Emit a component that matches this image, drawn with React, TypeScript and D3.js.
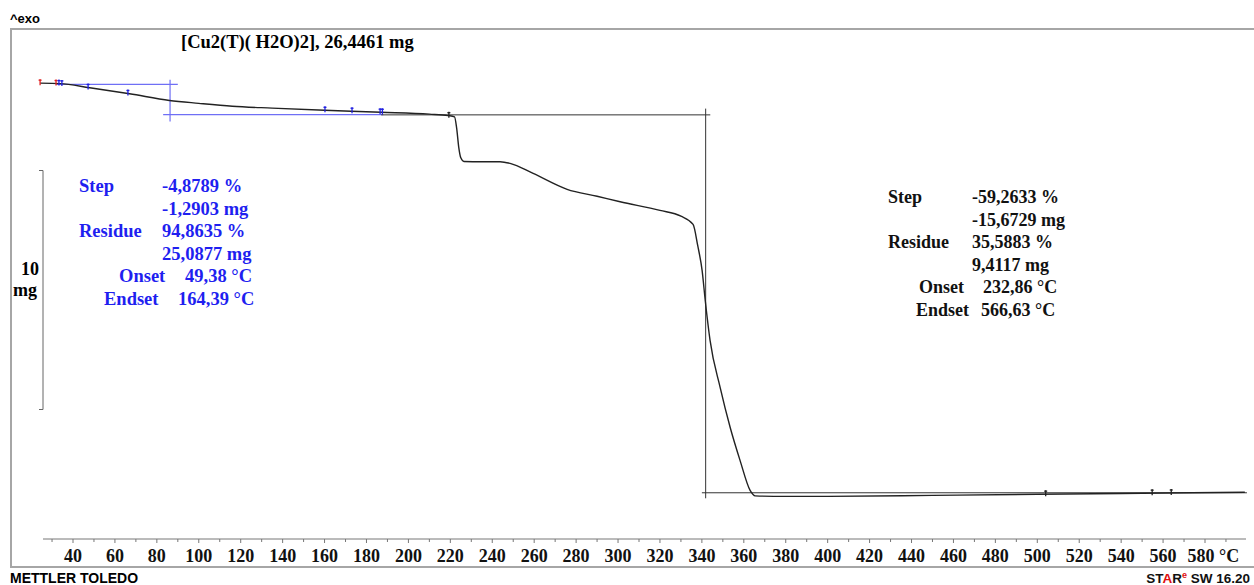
import React from "react";
import * as d3 from "d3";

// ---- data (temperature °C, mass mg) ----
const tempC = [24.3, 33.8, 48, 67, 86, 100, 116, 135, 160, 187, 210, 219, 222, 223, 224, 225, 226.5, 235, 243.7, 248.5, 259.5, 275.7, 290, 301, 320, 330, 335.8, 338, 340.1, 341.6, 343.9, 348.7, 353.5, 358.2, 363, 365.4, 380, 400, 450, 500, 550, 599];
const massMg = [26.46, 26.44, 26.27, 26.02, 25.74, 25.62, 25.5, 25.42, 25.33, 25.25, 25.17, 25.11, 25.06, 24.6, 23.8, 23.35, 23.2, 23.19, 23.19, 23.12, 22.7, 22.04, 21.75, 21.52, 21.16, 20.92, 20.58, 19.7, 18.66, 17.41, 15.75, 13.79, 12.12, 10.75, 9.5, 9.27, 9.25, 9.25, 9.29, 9.34, 9.38, 9.42];

const xTicksMajor = [40, 60, 80, 100, 120, 140, 160, 180, 200, 220, 240, 260, 280, 300, 320, 340, 360, 380, 400, 420, 440, 460, 480, 500, 520, 540, 560, 580];
const xTicksMinor = [30, 50, 70, 90, 110, 130, 150, 170, 190, 210, 230, 250, 270, 290, 310, 330, 350, 370, 390, 410, 430, 450, 470, 490, 510, 530, 550, 570, 590];

const titleText = "[Cu2(T)( H2O)2], 26,4461 mg";

const step1Labels = [
  ["Step", "-4,8789 %"],
  ["", "-1,2903 mg"],
  ["Residue", "94,8635 %"],
  ["", "25,0877 mg"],
];
const step1Onset = ["Onset", "49,38 °C"];
const step1Endset = ["Endset", "164,39 °C"];

const step2Labels = [
  ["Step", "-59,2633 %"],
  ["", "-15,6729 mg"],
  ["Residue", "35,5883 %"],
  ["", "9,4117 mg"],
];
const step2Onset = ["Onset", "232,86 °C"];
const step2Endset = ["Endset", "566,63 °C"];

// annotation geometry in data units
const step1Upper = { t0: 32, t1: 90, m: 26.41 };
const step1Lower = { t0: 83, t1: 188, m: 25.15 };
const step1Vertical = { t: 86.3, m0: 26.6, m1: 24.86 };
const step2Upper = { t0: 187, t1: 344, m: 25.14 };
const step2Vertical = { t: 341.8, m0: 25.4, m1: 9.17 };
const step2Lower = { t0: 340, t1: 600, m: 9.4 };
const markersRed = [24.3, 31.9];
const markersBlue = [33.3, 34.7, 47.2, 66.2, 160.2, 173.1, 186.5, 187.6];
const markersBlack = [219.3, 504, 554.8, 563.9];

const BLUE = "#1f1ff0";

export default function App() {
  const W = 1254, H = 585;
  const x = d3.scaleLinear().domain([40, 580]).range([73, 1205]);
  const y = d3.scaleLinear().domain([9.4117, 26.4461]).range([492.5, 83.5]);
  const pts: [number, number][] = tempC.map((t, i) => [t, massMg[i]]);
  const line = d3.line<[number, number]>().x(d => x(d[0])).y(d => y(d[1])).curve(d3.curveMonotoneX);
  const massAt = (t: number) => {
    for (let i = 0; i < tempC.length - 1; i++) {
      if (t >= tempC[i] && t <= tempC[i + 1]) {
        const f = (t - tempC[i]) / (tempC[i + 1] - tempC[i]);
        return massMg[i] + f * (massMg[i + 1] - massMg[i]);
      }
    }
    return massMg[massMg.length - 1];
  };
  const marker = (t: number, color: string, k: string) => {
    const cx = x(t), cy = y(massAt(t));
    return (
      <g key={k} stroke={color} strokeWidth={1.3}>
        <line x1={cx} x2={cx} y1={cy - 4} y2={cy + 2} />
        <line x1={cx - 1.5} x2={cx + 1.5} y1={cy - 3} y2={cy - 3} />
      </g>
    );
  };
  const axisY = 539;
  const serif = "'Liberation Serif', 'Times New Roman', serif";
  const sans = "'Liberation Sans', Arial, sans-serif";
  const lineH = 22.5;
  return (
    <svg width={W} height={H} style={{ position: "fixed", left: 0, top: 0, background: "#fff" }}>
      <rect x={0} y={0} width={W} height={H} fill="#fff" />
      {/* frame */}
      <g stroke="#a6a6a6" strokeWidth={2} fill="none">
        <line x1={11} x2={W} y1={29} y2={29} />
        <line x1={11} x2={11} y1={28} y2={568} />
        <line x1={10} x2={W} y1={567} y2={567} />
      </g>
      <text x={10} y={23} fontFamily={sans} fontWeight="bold" fontSize={13}>^exo</text>
      <text x={181} y={48} fontFamily={serif} fontWeight="bold" fontSize={18.5}>{titleText}</text>

      {/* scale bar */}
      <g stroke="#666" strokeWidth={1} fill="none">
        <line x1={43} x2={43} y1={170.5} y2={409.5} />
        <line x1={39} x2={43} y1={170.5} y2={170.5} />
        <line x1={39} x2={43} y1={409.5} y2={409.5} />
      </g>
      <text x={30} y={275} textAnchor="middle" fontFamily={serif} fontWeight="bold" fontSize={18}>10</text>
      <text x={25} y={296} textAnchor="middle" fontFamily={serif} fontWeight="bold" fontSize={18}>mg</text>

      {/* step 1 annotation (blue) */}
      <g stroke="#6f6ff5" strokeWidth={1.2}>
        <line x1={x(step1Upper.t0)} x2={x(step1Upper.t1)} y1={y(step1Upper.m)} y2={y(step1Upper.m)} />
        <line x1={x(step1Lower.t0)} x2={x(step1Lower.t1)} y1={y(step1Lower.m)} y2={y(step1Lower.m)} />
        <line x1={x(step1Vertical.t)} x2={x(step1Vertical.t)} y1={y(step1Vertical.m0)} y2={y(step1Vertical.m1)} />
      </g>
      {/* step 2 annotation (black) */}
      <g stroke="#333" strokeWidth={1}>
        <line x1={x(step2Upper.t0)} x2={x(step2Upper.t1)} y1={y(step2Upper.m)} y2={y(step2Upper.m)} />
        <line x1={x(step2Vertical.t)} x2={x(step2Vertical.t)} y1={y(step2Vertical.m0)} y2={y(step2Vertical.m1)} />
        <line x1={x(step2Lower.t0)} x2={x(step2Lower.t1)} y1={y(step2Lower.m)} y2={y(step2Lower.m)} />
      </g>

      {/* curve */}
      <path d={line(pts) || ""} fill="none" stroke="#222" strokeWidth={1.4} />
      {markersRed.map((t, i) => marker(t, "#e02020", "r" + i))}
      {markersBlue.map((t, i) => marker(t, "#2020e0", "b" + i))}
      {markersBlack.map((t, i) => marker(t, "#222", "k" + i))}

      {/* step 1 text */}
      <g fontFamily={serif} fontWeight="bold" fontSize={18.5} fill={BLUE}>
        {step1Labels.map((r, i) => (
          <g key={i}>
            <text x={79} y={192 + i * lineH}>{r[0]}</text>
            <text x={162} y={192 + i * lineH}>{r[1]}</text>
          </g>
        ))}
        <text x={119} y={192 + 4 * lineH}>{step1Onset[0]}</text>
        <text x={185} y={192 + 4 * lineH}>{step1Onset[1]}</text>
        <text x={104} y={192 + 5 * lineH}>{step1Endset[0]}</text>
        <text x={178} y={192 + 5 * lineH}>{step1Endset[1]}</text>
      </g>
      {/* step 2 text */}
      <g fontFamily={serif} fontWeight="bold" fontSize={18} fill="#111">
        {step2Labels.map((r, i) => (
          <g key={i}>
            <text x={888} y={203 + i * lineH}>{r[0]}</text>
            <text x={972} y={203 + i * lineH}>{r[1]}</text>
          </g>
        ))}
        <text x={919} y={203 + 4 * lineH}>{step2Onset[0]}</text>
        <text x={983} y={203 + 4 * lineH}>{step2Onset[1]}</text>
        <text x={916} y={203 + 5 * lineH}>{step2Endset[0]}</text>
        <text x={981} y={203 + 5 * lineH}>{step2Endset[1]}</text>
      </g>

      {/* x axis */}
      <g stroke="#777" strokeWidth={1}>
        <line x1={43} x2={1246} y1={axisY} y2={axisY} />
        {xTicksMajor.map(t => <line key={"M" + t} x1={x(t)} x2={x(t)} y1={axisY} y2={axisY + 4} />)}
        {xTicksMinor.map(t => <line key={"m" + t} x1={x(t)} x2={x(t)} y1={axisY} y2={axisY + 3} />)}
      </g>
      <g fontFamily={serif} fontWeight="bold" fontSize={18} fill="#111" textAnchor="middle">
        {xTicksMajor.map(t => <text key={"l" + t} x={x(t) - (t === 580 ? 4 : 0)} y={562}>{t}</text>)}
      </g>
      <text x={1219} y={562} fontFamily={serif} fontWeight="bold" fontSize={18} fill="#111">°C</text>

      <text x={10} y={583} fontFamily={sans} fontWeight="bold" fontSize={14}>METTLER TOLEDO</text>
      <text x={1250} y={583} textAnchor="end" fontFamily={sans} fontWeight="bold" fontSize={13.5} fill="#111">
        <tspan>ST</tspan><tspan fill="#e01010">A</tspan><tspan>R</tspan><tspan fill="#e01010" fontSize={9} dy={-5}>e</tspan><tspan dy={5}> SW 16.20</tspan>
      </text>
    </svg>
  );
}
